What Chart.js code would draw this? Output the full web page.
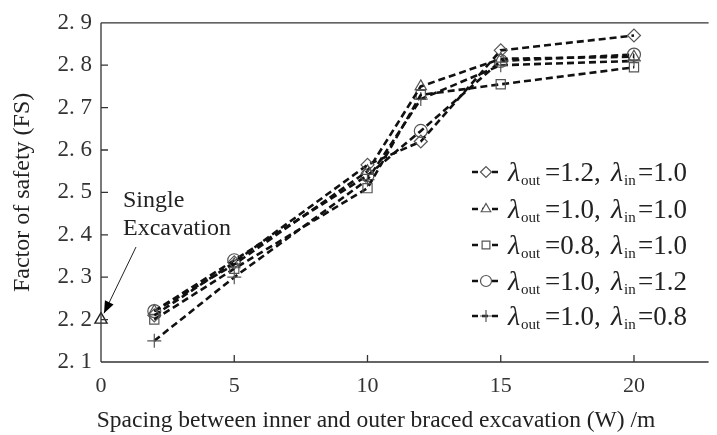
<!DOCTYPE html>
<html>
<head>
<meta charset="utf-8">
<script src="https://cdn.jsdelivr.net/npm/chart.js@4/dist/chart.umd.min.js"></script>
<style>
  html,body{margin:0;padding:0;background:#fff;}
  #wrap{width:717px;height:435px;position:relative;}
</style>
</head>
<body>
<div id="wrap"><canvas id="c" width="717" height="435"></canvas></div>
<script>
// spacing W (m)
const spacing = [2, 5, 10, 12, 15, 20];
// factor of safety per case
const fsOut12In10 = [2.21, 2.335, 2.565, 2.62, 2.835, 2.87];
const fsOut10In10 = [2.22, 2.33, 2.55, 2.75, 2.815, 2.82];
const fsOut08In10 = [2.20, 2.32, 2.51, 2.73, 2.755, 2.795];
const fsOut10In12 = [2.22, 2.34, 2.54, 2.645, 2.81, 2.825];
const fsOut10In08 = [2.15, 2.30, 2.53, 2.72, 2.80, 2.81];
// single excavation
const singleX = [0];
const singleFS = [2.2];

const xTicks = [0, 5, 10, 15, 20];
const yTicks = [2.1, 2.2, 2.3, 2.4, 2.5, 2.6, 2.7, 2.8, 2.9];

const legendRows = [
  {out:'1.2', inn:'1.0', style:'rectRot'},
  {out:'1.0', inn:'1.0', style:'triangle'},
  {out:'0.8', inn:'1.0', style:'rect'},
  {out:'1.0', inn:'1.2', style:'circle'},
  {out:'1.0', inn:'0.8', style:'cross'}
];

const SERIF = '"Liberation Serif", "DejaVu Serif", serif';

function series(label, ys, style){
  return {
    label,
    data: spacing.map((x,i)=>({x, y: ys[i]})),
    borderColor:'#111',
    borderWidth:2.6,
    borderDash:[7,4],
    pointStyle: style,
    pointRadius: style==='cross' ? 7 : 6.5,
    pointBorderColor:'#555',
    pointBackgroundColor:'rgba(255,255,255,0)',
    pointBorderWidth:1.2,
    tension:0,
    clip:false
  };
}

// frame, inward ticks, arrow, annotation, x title and legend
const decor = {
  id:'decor',
  afterDatasetsDraw(chart){
    const {ctx, chartArea:a, scales:{x, y}} = chart;
    ctx.save();
    ctx.strokeStyle = '#333';
    ctx.lineWidth = 1.3;
    ctx.beginPath();
    ctx.moveTo(a.left, a.top); ctx.lineTo(a.right, a.top);
    ctx.moveTo(a.left, a.top); ctx.lineTo(a.left, a.bottom);
    ctx.moveTo(a.left, a.bottom); ctx.lineTo(a.right, a.bottom);
    xTicks.forEach(v=>{ const px = x.getPixelForValue(v); ctx.moveTo(px, a.bottom); ctx.lineTo(px, a.bottom-7); });
    yTicks.forEach(v=>{ const py = y.getPixelForValue(v); ctx.moveTo(a.left, py); ctx.lineTo(a.left+7, py); });
    ctx.stroke();

    // x axis title (sits left of the plot centre in the original)
    ctx.fillStyle = '#222';
    ctx.font = '23.5px ' + SERIF;
    ctx.textAlign = 'center';
    ctx.textBaseline = 'alphabetic';
    ctx.fillText('Spacing between inner and outer braced excavation (W) /m', 376, 427);
    ctx.textAlign = 'left';

    // annotation text
    ctx.font = '24px ' + SERIF;
    ctx.fillText('Single', 123, 207);
    ctx.fillText('Excavation', 123, 235);

    // arrow to single excavation point
    const tx = x.getPixelForValue(0) + 3, ty = y.getPixelForValue(2.215);
    const sx = 136, sy = 247;
    ctx.strokeStyle = '#222';
    ctx.lineWidth = 1;
    ctx.beginPath(); ctx.moveTo(sx, sy); ctx.lineTo(tx, ty); ctx.stroke();
    const ang = Math.atan2(ty - sy, tx - sx);
    ctx.fillStyle = '#000';
    ctx.beginPath();
    ctx.moveTo(tx, ty);
    ctx.lineTo(tx - 13*Math.cos(ang - 0.38), ty - 13*Math.sin(ang - 0.38));
    ctx.lineTo(tx - 13*Math.cos(ang + 0.38), ty - 13*Math.sin(ang + 0.38));
    ctx.closePath(); ctx.fill();

    // legend
    const rowY = [172, 209, 245, 281, 316];
    legendRows.forEach((r,i)=>{
      const cy = rowY[i];
      ctx.strokeStyle = '#111';
      ctx.lineWidth = 2.6;
      ctx.setLineDash([6,4]);
      ctx.beginPath(); ctx.moveTo(472, cy); ctx.lineTo(501, cy); ctx.stroke();
      ctx.setLineDash([]);
      ctx.strokeStyle = '#555'; ctx.lineWidth = 1.2; ctx.fillStyle = '#fff';
      Chart.helpers.drawPoint(ctx, {pointStyle:r.style, radius: r.style==='cross'?6:5.5, rotation:0, borderWidth:1.2}, 486, cy);
      ctx.fillStyle = '#222';
      const base = cy + 9;
      ctx.font = 'italic 28px ' + SERIF;
      ctx.fillText('\u03bb', 508, base);
      ctx.font = '15px ' + SERIF;
      ctx.fillText('out', 521, base + 4);
      ctx.font = '27px ' + SERIF;
      ctx.fillText('=' + r.out + ',', 545, base);
      ctx.font = 'italic 28px ' + SERIF;
      ctx.fillText('\u03bb', 611, base);
      ctx.font = '15px ' + SERIF;
      ctx.fillText('in', 624, base + 4);
      ctx.font = '27px ' + SERIF;
      ctx.fillText('=' + r.inn, 638, base);
    });
    ctx.restore();
  }
};

new Chart(document.getElementById('c'), {
  type:'line',
  data:{
    datasets:[
      series('out1.2 in1.0', fsOut12In10, 'rectRot'),
      series('out1.0 in1.0', fsOut10In10, 'triangle'),
      series('out0.8 in1.0', fsOut08In10, 'rect'),
      series('out1.0 in1.2', fsOut10In12, 'circle'),
      series('out1.0 in0.8', fsOut10In08, 'cross'),
      {
        label:'Single excavation',
        data: singleX.map((x,i)=>({x, y: singleFS[i]})),
        showLine:false,
        pointStyle:'triangle',
        pointRadius:7,
        pointBorderColor:'#222',
        pointBackgroundColor:'rgba(255,255,255,0)',
        pointBorderWidth:1.4,
        clip:false
      }
    ]
  },
  options:{
    responsive:false,
    animation:false,
    layout:{ padding:{ left:8, right:0, top:20, bottom:0 } },
    plugins:{ legend:{ display:false }, tooltip:{ enabled:false } },
    scales:{
      x:{
        type:'linear', min:0, max:22.8,
        afterBuildTicks: s => { s.ticks = xTicks.map(v=>({value:v})); },
        afterFit: s => { s.height = 73; },
        grid:{ display:false, drawTicks:false },
        border:{ display:false },
        ticks:{ color:'#333', padding:11, font:{ family:SERIF, size:22 }, callback: v => String(v) },
        title:{ display:false }
      },
      y:{
        type:'linear', min:2.1, max:2.9,
        afterBuildTicks: s => { s.ticks = yTicks.map(v=>({value:v})); },
        afterFit: s => { s.width = 93; },
        grid:{ display:false, drawTicks:false },
        border:{ display:false },
        ticks:{ color:'#333', padding:9, font:{ family:SERIF, size:23 }, callback: v => Number(v).toFixed(1).replace('.', '. ') },
        title:{ display:true, text:'Factor of safety (FS)', color:'#222', font:{ family:SERIF, size:24 }, padding:{ top:0, bottom:0 } }
      }
    }
  },
  plugins:[decor]
});
</script>
</body>
</html>
